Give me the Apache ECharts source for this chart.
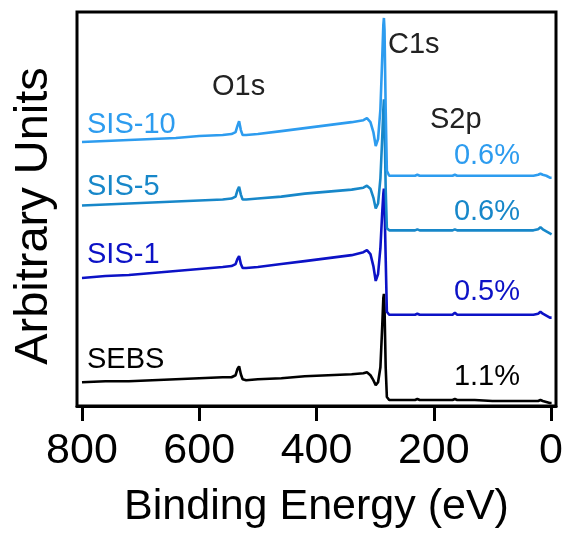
<!DOCTYPE html>
<html>
<head>
<meta charset="utf-8">
<script src="https://cdn.jsdelivr.net/npm/echarts@6/dist/echarts.min.js"></script>
<style>
  html, body { margin: 0; padding: 0; background: #fff; }
  #chart { width: 566px; height: 534px; }
</style>
</head>
<body>
<div id="chart"></div>
<script>
// XPS survey spectra, binding energy (eV) on a reversed axis, traces offset vertically
const energy = [800,760,720,680,640,600,560,545,538,535,532,529,526,520,500,460,420,380,340,320,314,308,303,299,295,291,288,286,285,284,282,280,276,270,250,232,228,224,200,168,164,160,130,100,60,30,22,18,14,8,2,-1];

const sebs  = [24,25,25,26,27,28,29,29,31,37,40,32,27,26,27,28,30,31,32,33,34,31,26,21,24,39,79,109,113,99,39,9,6,6,6,6,7,6,6,6,7,6,6,5,5,5,5,6,5,4,3,3];
const sis1  = [129,131,132,134,136,138,140,141,143,148,151,143,139,139,140,143,146,149,152,155,157,153,141,126,133,159,194,214,219,204,149,95,92,92,92,92,93,92,92,92,94,92,92,92,92,92,93,95,93,91,89,89];
const sis5  = [202,203,204,205,206,207,208,209,211,217,221,213,208,208,209,211,214,216,218,220,222,219,210,199,204,229,269,299,309,289,219,179,177,177,177,177,178,177,177,177,178,177,177,177,177,177,178,180,178,176,174,173];
const sis10 = [266,267,268,269,270,272,273,274,276,282,287,278,273,273,274,277,280,283,286,288,290,286,276,262,269,299,349,384,391,379,299,237,232,232,232,232,233,232,232,232,233,232,232,232,232,232,233,234,233,232,230,230];

const xTicks = [0, 200, 400, 600, 800];
const sulfur = ['1.1%', '0.5%', '0.6%', '0.6%'];

const colors = { sebs: '#000000', sis1: '#0c12c6', sis5: '#1787c9', sis10: '#2d9cef' };
const FONT = '"Liberation Sans", Arial, sans-serif';

function pairs(vals) { return energy.map((e, i) => [e, vals[i]]); }

function lineSeries(name, vals, color) {
  return {
    name, type: 'line', data: pairs(vals), showSymbol: false, symbol: 'none',
    lineStyle: { color, width: 2.6 }, animation: false, z: 2
  };
}

function txt(text, x, y, color, align) {
  return {
    type: 'text', x, y, z: 10,
    style: { text, x: 0, y: 0, fill: color, font: '29px ' + FONT, textAlign: align || 'left', textVerticalAlign: 'middle' }
  };
}

const chart = echarts.init(document.getElementById('chart'), null, { renderer: 'canvas' });
chart.setOption({
  animation: false,
  backgroundColor: '#fff',
  grid: { left: 77, right: 10, top: 12, bottom: 125, show: true, borderColor: '#000', borderWidth: 3, backgroundColor: 'transparent' },
  xAxis: {
    type: 'value', inverse: true, min: -8.5, max: 808.5,
    name: 'Binding Energy (eV)', nameLocation: 'middle', nameGap: 80,
    nameTextStyle: { fontSize: 43, color: '#000', fontFamily: FONT },
    axisLine: { show: true, lineStyle: { color: '#000', width: 3 } },
    axisTick: { show: true, inside: false, length: 15, lineStyle: { color: '#000', width: 3 }, customValues: xTicks },
    axisLabel: { show: true, fontSize: 43, color: '#000', fontFamily: FONT, margin: 24, customValues: xTicks },
    splitLine: { show: false }
  },
  yAxis: {
    type: 'value', min: 0, max: 397,
    axisLine: { show: false }, axisTick: { show: false }, axisLabel: { show: false }, splitLine: { show: false }
  },
  series: [
    lineSeries('SEBS', sebs, colors.sebs),
    lineSeries('SIS-1', sis1, colors.sis1),
    lineSeries('SIS-5', sis5, colors.sis5),
    lineSeries('SIS-10', sis10, colors.sis10)
  ],
  graphic: [
    {
      type: 'text', x: 34, y: 216, rotation: Math.PI / 2, z: 10,
      style: { text: 'Arbitrary Units', x: 0, y: 0, fill: '#000', font: '47px ' + FONT, textAlign: 'center', textVerticalAlign: 'middle' }
    },
    txt('SIS-10', 87, 125, colors.sis10),
    txt('SIS-5', 87, 187, colors.sis5),
    txt('SIS-1', 87, 255, colors.sis1),
    txt('SEBS', 87, 360, '#000'),
    txt('O1s', 212, 87, '#222'),
    txt('C1s', 388, 45, '#222'),
    txt('S2p', 430, 120, '#222'),
    txt(sulfur[3], 520, 156, colors.sis10, 'right'),
    txt(sulfur[2], 520, 212, colors.sis5, 'right'),
    txt(sulfur[1], 520, 292, colors.sis1, 'right'),
    txt(sulfur[0], 520, 377, '#000', 'right')
  ]
});
</script>
</body>
</html>
